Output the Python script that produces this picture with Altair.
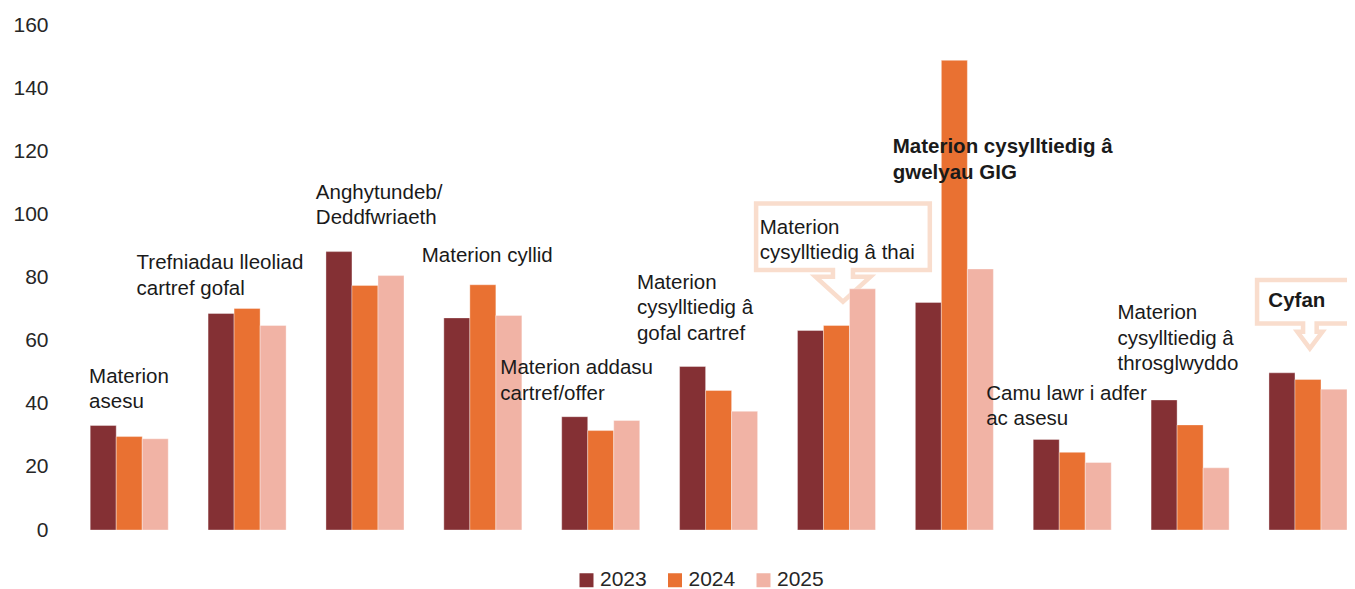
import altair as alt
import pandas as pd

categories = [
    "Materion asesu",
    "Trefniadau lleoliad cartref gofal",
    "Anghytundeb/Deddfwriaeth",
    "Materion cyllid",
    "Materion addasu cartref/offer",
    "Materion cysylltiedig â gofal cartref",
    "Materion cysylltiedig â thai",
    "Materion cysylltiedig â gwelyau GIG",
    "Camu lawr i adfer ac asesu",
    "Materion cysylltiedig â throsglwyddo",
    "Cyfan",
]
years = ["2023", "2024", "2025"]
v2023 = [33.1, 68.6, 88.2, 67.2, 35.9, 51.8, 63.2, 72.1, 28.7, 41.2, 49.8]
v2024 = [29.6, 70.2, 77.5, 77.7, 31.5, 44.2, 64.8, 148.8, 24.6, 33.3, 47.7]
v2025 = [28.9, 64.8, 80.6, 68.0, 34.7, 37.6, 76.4, 82.7, 21.4, 19.7, 44.6]
colors = ["#843034", "#E97132", "#F1B3A5"]

# annotation labels (text, anchor value in data units, pixel offset from group start, bold)
label_texts = [
    "Materion\nasesu",
    "Trefniadau lleoliad\ncartref gofal",
    "Anghytundeb/\nDeddfwriaeth",
    "Materion cyllid",
    "Materion addasu\ncartref/offer",
    "Materion\ncysylltiedig â\ngofal cartref",
    "Materion\ncysylltiedig â thai",
    "Materion cysylltiedig â\ngwelyau GIG",
    "Camu lawr i adfer\nac asesu",
    "Materion\ncysylltiedig â\nthrosglwyddo",
    "Cyfan",
]
label_y = [48.6, 84.5, 106.8, 86.9, 51.2, 78.3, 95.8, 121.2, 43.2, 68.7, 72.6]
label_dx = [-1.1, -71.5, -10.1, -22.1, -61.4, -42.7, -37.7, -22.6, -47.0, -33.6, -0.6]
label_bold = [False, False, False, False, False, False, False, True, False, False, True]

# callout boxes
callout_cats = ["Materion cysylltiedig â thai", "Cyfan"]
callout_y = [92.9, 72.3]
callout_dx = [45.5, 40.9]
callout_paths = [
    "M -0.8685 -0.334 L 0.8685 -0.334 L 0.8685 0.333 L 0.1 0.333 L 0.1 0.40 L 0.275 0.40 "
    "L 0 0.65 L -0.275 0.40 L -0.1 0.40 L -0.1 0.333 L -0.8685 0.333 Z",
    "M -0.528 -0.217 L 0.75 -0.217 L 0.75 0.216 L 0.068 0.216 L 0.068 0.30 L 0.125 0.30 "
    "L 0 0.466 L -0.125 0.30 L -0.068 0.30 L -0.068 0.216 L -0.528 0.216 Z",
]

rows = []
for i, c in enumerate(categories):
    for y, vals in zip(years, [v2023, v2024, v2025]):
        rows.append({"cat": c, "year": y, "value": vals[i]})
df = pd.DataFrame(rows)

FONT = "Liberation Sans"
xscale = alt.Scale(domain=categories, paddingInner=0.338, paddingOuter=0.0857, align=1)
yscale = alt.Scale(domain=[0, 160], nice=False)

bars = alt.Chart(df).mark_bar(stroke="#ffffff", strokeWidth=0.8, strokeOpacity=0.45).encode(
    x=alt.X("cat:N", scale=xscale, axis=None, sort=categories),
    xOffset=alt.XOffset("year:N", scale=alt.Scale(paddingInner=0, paddingOuter=0)),
    y=alt.Y(
        "value:Q",
        scale=yscale,
        axis=alt.Axis(
            values=list(range(0, 161, 20)),
            title=None,
            domain=False,
            ticks=False,
            tickSize=0,
            grid=False,
            labelFont=FONT,
            labelFontSize=21,
            labelColor="#262626",
            labelPadding=22,
        ),
    ),
    color=alt.Color(
        "year:N",
        scale=alt.Scale(domain=years, range=colors),
        legend=alt.Legend(
            orient="none",
            legendX=506,
            legendY=544.5,
            direction="horizontal",
            title=None,
            symbolType="square",
            symbolSize=196,
            symbolStrokeWidth=0,
            labelFont=FONT,
            labelFontSize=21,
            labelColor="#262626",
            labelOffset=3,
            columnPadding=17.5,
            padding=0,
        ),
    ),
)

layers = []
for cat, yv, dxv, path in zip(callout_cats, callout_y, callout_dx, callout_paths):
    d = pd.DataFrame({"cat": [cat], "value": [yv]})
    layers.append(
        alt.Chart(d).mark_point(
            shape=path, size=40000, filled=False, stroke="#F9DDCD", strokeWidth=4.5,
            opacity=1, strokeJoin="miter", xOffset=dxv,
        ).encode(
            x=alt.X("cat:N", scale=xscale, axis=None, sort=categories, bandPosition=0),
            y=alt.Y("value:Q", scale=yscale),
        )
    )

layers.append(bars)

for cat, txt, yv, dxv, bold in zip(categories, label_texts, label_y, label_dx, label_bold):
    d = pd.DataFrame({"cat": [cat], "value": [yv], "txt": [txt]})
    layers.append(
        alt.Chart(d).mark_text(
            align="left", baseline="middle", lineBreak="\n", lineHeight=25.5,
            font=FONT, fontSize=20.5, fontWeight="bold" if bold else "normal",
            color="#1A1A1A", dx=dxv,
        ).encode(
            x=alt.X("cat:N", scale=xscale, axis=None, sort=categories, bandPosition=0),
            y=alt.Y("value:Q", scale=yscale),
            text="txt:N",
        )
    )

chart = alt.layer(*layers).properties(
    width=1277,
    height=505,
    autosize=alt.AutoSizeParams(type="none"),
    padding={"left": 62, "top": 17, "right": 0, "bottom": 59},
).configure_view(stroke=None)

chart.save("out.html", embed_options={"renderer": "svg", "actions": False})
